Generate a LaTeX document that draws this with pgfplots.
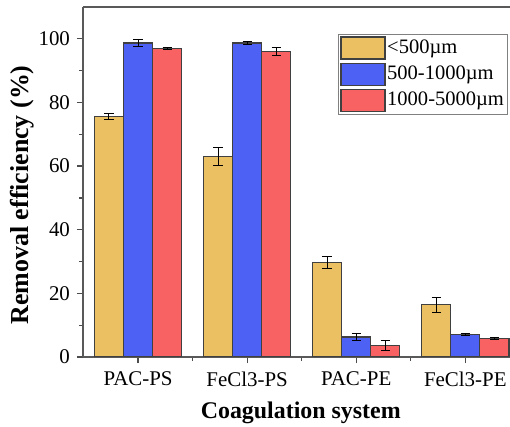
\documentclass[border=0pt]{standalone}
\usepackage{fontspec}
\setmainfont{Liberation Serif}
\usepackage{pgfplots}
\usepackage{pgfplotstable}
\pgfplotsset{compat=1.18}
\definecolor{cyel}{HTML}{EBC062}
\definecolor{cblu}{HTML}{4D62F5}
\definecolor{cred}{HTML}{F96262}
\pgfplotstableread{
x y e
0 75.6 0.9
1 63.0 2.8
2 29.7 2.0
3 16.4 2.3
}\tA
\pgfplotstableread{
x y e
0 98.7 1.2
1 98.7 0.5
2 6.3 1.1
3 7.1 0.3
}\tB
\pgfplotstableread{
x y e
0 97.0 0.4
1 96.0 1.3
2 3.5 1.6
3 5.9 0.3
}\tC
\begin{document}
\begin{tikzpicture}
\path[use as bounding box] (-41.5bp,-35bp) rectangle (213.5bp,178.5bp);
\begin{axis}[
  at={(0,0)}, anchor=south west,
  scale only axis, width=213.5bp, height=175bp,
  ybar=0pt, bar width=0.267,
  xmin=-0.505, xmax=3.41, ymin=0, ymax=110,
  axis x line*=box, axis y line*=left,
  axis line style={black!65, line width=0.8pt},
  xtick={0,1,2,3}, xticklabels={PAC-PS,FeCl3-PS,PAC-PE,FeCl3-PE},
  minor xtick={0.5,1.5,2.5},
  ytick={0,20,40,60,80,100}, minor ytick={10,30,50,70,90},
  xtick pos=bottom, ytick pos=left,
  tick align=outside,
  major tick length=3bp, minor tick length=2bp,
  tick style={black!70, line width=0.6pt},
  /pgf/number format/assume math mode=true,
  ticklabel style={font=\fontsize{10.5}{12}\selectfont},
  xticklabel style={yshift=-1bp},
  xlabel={Coagulation system},
  ylabel={Removal efficiency (\%)},
  xlabel style={at={(axis description cs:0.51,0)}, anchor=north, inner sep=0pt, yshift=-22.5bp, font=\fontsize{12}{14}\selectfont\bfseries},
  ylabel style={at={(axis description cs:0,0.463)}, anchor=center, yshift=30.5bp, inner sep=0pt, font=\fontsize{13}{15}\selectfont\bfseries},
  legend style={at={(rel axis cs:0.597,0.923)}, anchor=north west,
    draw=black!50, line width=0.5pt, font=\fontsize{10.3}{11}\selectfont,
    inner sep=1bp, row sep=1.5bp,
    nodes={inner sep=0.8bp, anchor=west}},
  legend cell align=left,
  legend image code/.code={\draw[#1, line width=0.6pt] (-1bp,-5.5bp) rectangle (21bp,5.5bp);},
  error bars/error bar style={black, line width=0.5pt},
  error bars/error mark options={rotate=90, mark size=2.3bp, line width=0.5pt, black},
]
\addplot[fill=cyel, draw=black!75, line width=0.6pt, error bars/.cd, y dir=both, y explicit] table[x=x, y=y, y error=e] {\tA};
\addplot[fill=cblu, draw=black!75, line width=0.6pt, error bars/.cd, y dir=both, y explicit] table[x=x, y=y, y error=e] {\tB};
\addplot[fill=cred, draw=black!75, line width=0.6pt, error bars/.cd, y dir=both, y explicit] table[x=x, y=y, y error=e] {\tC};
\legend{<500µm, 500-1000µm, 1000-5000µm}
\end{axis}
\end{tikzpicture}
\end{document}
